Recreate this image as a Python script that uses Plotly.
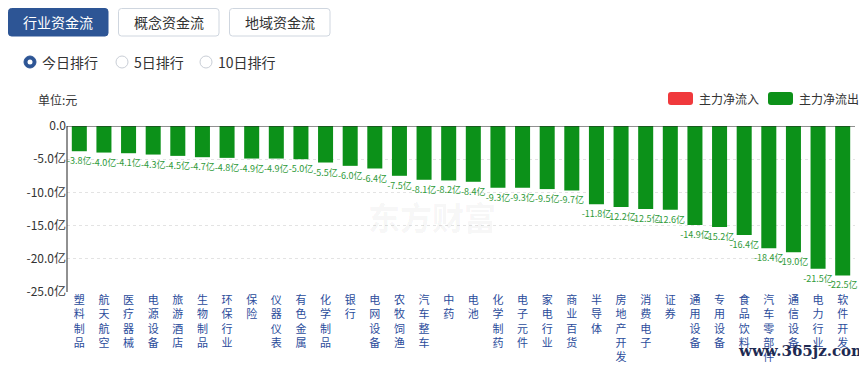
import plotly.graph_objects as go

categories = ["塑料制品", "航天航空", "医疗器械", "电源设备", "旅游酒店", "生物制品", "环保行业", "保险",
              "仪器仪表", "有色金属", "化学制品", "银行", "电网设备", "农牧饲渔", "汽车整车", "中药",
              "电池", "化学制药", "电子元件", "家电行业", "商业百货", "半导体", "房地产开发", "消费电子",
              "证券", "通用设备", "专用设备", "食品饮料", "汽车零部件", "通信设备", "电力行业", "软件开发"]
values = [-3.8, -4.0, -4.1, -4.3, -4.5, -4.7, -4.8, -4.9, -4.9, -5.0, -5.5, -6.0, -6.4, -7.5, -8.1, -8.2,
          -8.4, -9.3, -9.3, -9.5, -9.7, -11.8, -12.2, -12.5, -12.6, -14.9, -15.2, -16.4, -18.4, -19.0,
          -21.5, -22.5]
ytick_vals = [0, -5, -10, -15, -20, -25]
ytick_text = ["0.0", "-5.0亿", "-10.0亿", "-15.0亿", "-20.0亿", "-25.0亿"]
tabs = ["行业资金流", "概念资金流", "地域资金流"]
radios = ["今日排行", "5日排行", "10日排行"]
legend_names = ["主力净流入", "主力净流出"]

FONT = "Microsoft YaHei, Noto Sans CJK SC, sans-serif"
GREEN = "#0c9119"
RED = "#f0393c"
BLUE = "#2d5595"

OFF = 8  # page body margin
W, H = 867 - OFF, 367 - OFF
# plot area in page pixels
L, R, T, B = 67, 855, 126, 292


def px(x):
    return (x - L) / (R - L)


def py(y):
    return (B - y) / (B - T)


def rrect(x0, y0, x1, y1, r):
    rx = r / (R - L)
    ry = r / (B - T)
    X0, X1 = px(x0), px(x1)
    Y0, Y1 = py(y0), py(y1)
    return (f"M {X0+rx},{Y0} L {X1-rx},{Y0} Q {X1},{Y0} {X1},{Y0-ry} "
            f"L {X1},{Y1+ry} Q {X1},{Y1} {X1-rx},{Y1} L {X0+rx},{Y1} "
            f"Q {X0},{Y1} {X0},{Y1+ry} L {X0},{Y0-ry} Q {X0},{Y0} {X0+rx},{Y0} Z")


def text_at(x, y, text, size, color, anchor="center", family=FONT):
    return dict(xref="paper", yref="paper", x=px(x), y=py(y), xanchor=anchor, yanchor="middle",
                text=text, showarrow=False, font=dict(size=size, color=color, family=family))


ticktext = ["<br>".join(list(c)) for c in categories]
labels = [f"{v:.1f}亿" for v in values]

fig = go.Figure()
fig.add_trace(go.Bar(
    x=categories, y=values, marker_color=GREEN, marker_line_width=0,
    text=labels, textposition="outside", cliponaxis=False, constraintext="none",
    textfont=dict(size=9, color="#2e9a38", family=FONT),
    showlegend=False, hoverinfo="skip",
))

shapes = []
annotations = []

shapes.append(dict(type="line", xref="paper", yref="y", x0=0, x1=1, y0=0, y1=0,
                   line=dict(color="#222", width=1)))
shapes.append(dict(type="line", xref="paper", yref="paper", x0=0, x1=0, y0=0, y1=1,
                   line=dict(color="#222", width=1)))

tab_pos = [(8, 108), (118, 219), (229, 330)]
for i, (name, (a, b)) in enumerate(zip(tabs, tab_pos)):
    active = i == 0
    shapes.append(dict(type="path", xref="paper", yref="paper", path=rrect(a + 0.5, 8.5, b, 36, 3),
                       fillcolor=BLUE if active else "white",
                       line=dict(color=BLUE if active else "#cfd6df", width=1)))
    annotations.append(text_at((a + b) / 2, 22, name, 14, "white" if active else "#333"))

radio_pos = [(30, 40), (122, 132), (206, 216)]
for i, (name, (cx, tx)) in enumerate(zip(radios, radio_pos)):
    r = 6
    if i == 0:
        shapes.append(dict(type="circle", xref="paper", yref="paper",
                           x0=px(cx - r), x1=px(cx + r), y0=py(62 + r), y1=py(62 - r),
                           fillcolor=BLUE, line=dict(color=BLUE, width=1)))
        shapes.append(dict(type="circle", xref="paper", yref="paper",
                           x0=px(cx - 2.5), x1=px(cx + 2.5), y0=py(62 + 2.5), y1=py(62 - 2.5),
                           fillcolor="white", line=dict(width=0)))
    else:
        shapes.append(dict(type="circle", xref="paper", yref="paper",
                           x0=px(cx - r), x1=px(cx + r), y0=py(62 + r), y1=py(62 - r),
                           fillcolor="white", line=dict(color="#c9ced6", width=1)))
    annotations.append(text_at(tx, 62, name, 14, "#333", anchor="left"))

annotations.append(text_at(36, 99, "单位:元", 12, "#333", anchor="left"))

leg = [(668, 697, RED), (768, 797, GREEN)]
for name, (a, tx, col) in zip(legend_names, leg):
    shapes.append(dict(type="path", xref="paper", yref="paper", path=rrect(a, 92, a + 25, 105, 3),
                       fillcolor=col, line=dict(width=0)))
    annotations.append(text_at(tx, 98.5, name, 12, "#333", anchor="left"))

annotations.append(text_at(432, 216, "<b>东方财富</b>", 32, "rgba(0,0,0,0.05)"))
annotations.append(text_at(802, 351, "<b>www.365jz.com</b>", 15, "#1d2a52",
                           family="DejaVu Serif, serif"))

fig.update_layout(
    width=W, height=H,
    margin=dict(l=L - OFF, r=(W + OFF) - R, t=T - OFF, b=(H + OFF) - B, pad=0, autoexpand=False),
    paper_bgcolor="white", plot_bgcolor="white",
    bargap=0.39,
    font=dict(family=FONT),
    shapes=shapes, annotations=annotations,
    xaxis=dict(tickmode="array", tickvals=categories, ticktext=ticktext, automargin=False,
               tickfont=dict(size=11, color="#2b4c9b", family=FONT),
               showgrid=False, showline=False, ticks="", fixedrange=True),
    yaxis=dict(range=[-25, 0], tickvals=ytick_vals, ticktext=ytick_text, automargin=False,
               tickfont=dict(size=12, color="#333", family=FONT),
               showgrid=True, gridcolor="#e3e3e3", griddash="dot", gridwidth=1,
               zeroline=False, showline=False, ticks="", fixedrange=True),
)

fig.write_html("out.html", config={"displayModeBar": False})
